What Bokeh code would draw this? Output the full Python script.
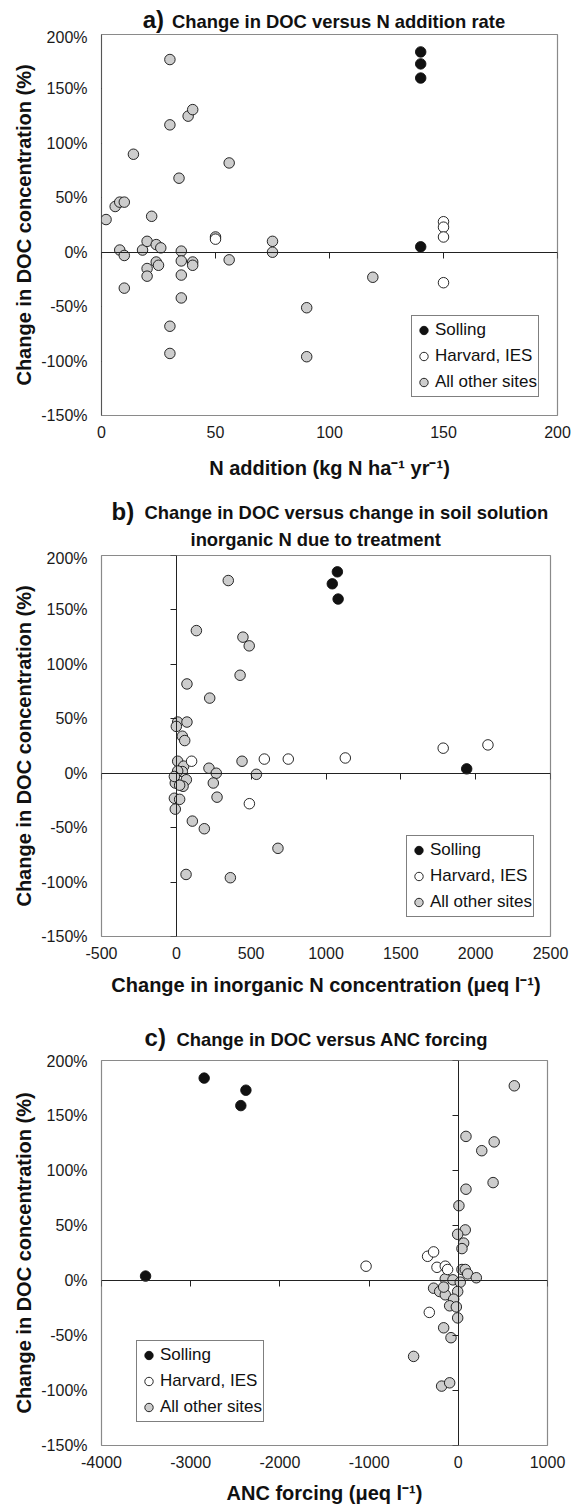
from bokeh.plotting import figure
from bokeh.layouts import column
from bokeh.models import (LinearAxis, FixedTicker, PrintfTickFormatter, CustomJSTickFormatter,
                          Range1d, Legend, LegendItem, Div)
from bokeh.embed import file_html
from bokeh.resources import INLINE

FONT = "Liberation Sans"
W = 574

# ---------------- data ----------------
y_ticks = [-150, -100, -50, 0, 50, 100, 150, 200]

# Panel a: N addition (kg N ha-1 yr-1) vs change in DOC (%)
a_xticks = [0, 50, 100, 150, 200]
a_sol_x = [140, 140, 140, 140]
a_sol_y = [184, 173, 160, 5]
a_har_x = [50, 150, 150, 150, 150]
a_har_y = [12, 28, 23, 14, -28]
a_oth_x = [2, 6, 8, 10, 14, 30, 30, 38, 40, 22, 34, 56, 8, 10, 10, 18, 20, 24, 26, 20,
           20, 24, 25, 35, 35, 35, 35, 30, 30, 40, 40, 50, 56, 75, 75, 119, 90, 90]
a_oth_y = [30, 42, 46, 46, 90, 177, 117, 125, 131, 33, 68, 82, 2, -3, -33, 2, 10, 7, 4, -15,
           -22, -9, -12, 1, -8, -21, -42, -68, -93, -9, -12, 14, -7, 10, 0, -23, -51, -96]

# Panel b: change in inorganic N (ueq/l) vs change in DOC (%)
b_xticks = [-500, 0, 500, 1000, 1500, 2000, 2500]
b_sol_x = [1076, 1042, 1081, 1940]
b_sol_y = [185, 174, 160, 4]
b_har_x = [102, 588, 748, 1129, 488, 1783, 2082]
b_har_y = [11, 13, 13, 14, -28, 23, 26]
b_oth_x = [347, 134, 445, 487, 426, 71, 223, 9, 71, 0, 40, 56, 9, 439, 49, 218, 40, 9, 267, 535,
           67, -7, -13, 45, 22, 247, 272, -13, 22, -7, 107, 187, 679, 65, 361]
b_oth_y = [177, 131, 125, 117, 90, 82, 69, 47, 47, 43, 34, 30, 11, 11, 6.5, 4.6, 1.5, 2, 0, -1,
           -6, -9, -3, -12, -11, -9, -22, -23, -24, -33, -44, -51, -69, -93, -96]

# Panel c: ANC forcing (ueq/l) vs change in DOC (%)
c_xticks = [-4000, -3000, -2000, -1000, 0, 1000]
c_sol_x = [-2849, -2381, -2438, -3506]
c_sol_y = [184, 173, 159, 4]
c_har_x = [-1034, -344, -277, -239, -146, -120, -325]
c_har_y = [13, 22, 26, 12, 13, 10, -29]
c_oth_x = [628, 86, 263, 402, 390, 86, 7, 78, -7, 60, 41, 41, 78, 105, 202, -146, -60, 22,
           -277, -209, -146, -7, -52, -97, -22, -7, -164, -82, -501, -187, -97, -164]
c_oth_y = [177, 131, 118, 126, 89, 83, 68, 46, 42, 34, 29, 10, 10, 6, 2.5, 1.5, 0.6, -1.5,
           -7, -10, -13, -10, -17, -23, -24, -34, -43, -52, -69, -96, -93, -6]

legend_labels = ["Solling", "Harvard, IES", "All other sites"]


def title_div(height, parts):
    spans = []
    for (txt, left, top, size, centered) in parts:
        tr = "transform:translateX(-50%);" if centered else ""
        spans.append(
            f'<span style="position:absolute;left:{left}px;top:{top}px;font-size:{size}px;'
            f'line-height:1;white-space:nowrap;{tr}">{txt}</span>')
    html = (f'<div style="position:relative;width:{W}px;height:{height}px;'
            f"font-family:'{FONT}',Arial,sans-serif;font-weight:bold;color:#111111;"
            f'overflow:visible;">' + "".join(spans) + "</div>")
    return Div(text=html, width=W, height=height, margin=(0, 0, 0, 0),
               styles={"overflow": "visible"})


def make_panel(xr, xticks, sol, har, oth, frame_w, frame_h, borders, xlabel, xlabel_standoff,
               legend_loc):
    left, right, top, bottom = borders
    p = figure(frame_width=frame_w, frame_height=frame_h,
               x_range=Range1d(*xr), y_range=Range1d(-150, 200),
               output_backend="svg", toolbar_location=None,
               min_border_left=left, min_border_right=right,
               min_border_top=top, min_border_bottom=bottom)
    p.grid.visible = False
    p.border_fill_color = None
    p.outline_line_color = "#8a8a8a"
    p.outline_line_width = 1.2

    # labelled axes at the frame edges (no lines/ticks)
    xa = p.xaxis[0]
    xa.ticker = FixedTicker(ticks=xticks)
    xa.formatter = PrintfTickFormatter(format="%d")
    xa.axis_line_color = None
    xa.major_tick_line_color = None
    xa.minor_tick_line_color = None
    xa.major_label_standoff = 4
    xa.major_label_text_font = FONT
    xa.major_label_text_font_size = "16px"
    xa.major_label_text_color = "#1a1a1a"
    xa.axis_label = xlabel
    xa.axis_label_text_font = FONT
    xa.axis_label_text_font_style = "bold"
    xa.axis_label_text_font_size = "20px"
    xa.axis_label_text_color = "#111111"
    xa.axis_label_standoff = xlabel_standoff

    ya = p.yaxis[0]
    ya.ticker = FixedTicker(ticks=y_ticks)
    ya.formatter = PrintfTickFormatter(format="%d%%")
    ya.axis_line_color = None
    ya.major_tick_line_color = None
    ya.minor_tick_line_color = None
    ya.major_label_standoff = 8
    ya.major_label_text_font = FONT
    ya.major_label_text_font_size = "16px"
    ya.major_label_text_color = "#1a1a1a"
    ya.axis_label = "Change in DOC concentration (%)"
    ya.axis_label_text_font = FONT
    ya.axis_label_text_font_style = "bold"
    ya.axis_label_text_font_size = "20px"
    ya.axis_label_text_color = "#111111"
    ya.axis_label_standoff = 3

    # crossing axes at zero
    blank = CustomJSTickFormatter(code="return ''")
    fx = LinearAxis(fixed_location=0, ticker=FixedTicker(ticks=xticks), formatter=blank,
                    major_tick_in=6, major_tick_out=0, minor_tick_line_color=None,
                    axis_line_color="#222222", major_tick_line_color="#222222",
                    major_label_standoff=0, major_label_text_font_size="1px")
    p.add_layout(fx, "above")
    fy = LinearAxis(fixed_location=0, ticker=FixedTicker(ticks=y_ticks), formatter=blank,
                    major_tick_in=6, major_tick_out=0, minor_tick_line_color=None,
                    axis_line_color="#222222", major_tick_line_color="#222222",
                    major_label_standoff=0, major_label_text_font_size="1px")
    p.add_layout(fy, "right")

    r_o = p.scatter(oth[0], oth[1], marker="circle", size=10.5, fill_color="#cdcdcd",
                    line_color="#111111", line_width=0.9)
    r_h = p.scatter(har[0], har[1], marker="circle", size=10.5, fill_color="white",
                    line_color="#111111", line_width=0.9)
    r_s = p.scatter(sol[0], sol[1], marker="circle", size=10.5, fill_color="#111111",
                    line_color="#111111", line_width=0.9)

    leg = Legend(items=[LegendItem(label=legend_labels[0], renderers=[r_s]),
                        LegendItem(label=legend_labels[1], renderers=[r_h]),
                        LegendItem(label=legend_labels[2], renderers=[r_o])],
                 location=legend_loc, orientation="vertical",
                 border_line_color="black", border_line_width=1,
                 background_fill_color="white", background_fill_alpha=1.0,
                 padding=1, spacing=0, margin=0,
                 glyph_width=21, glyph_height=26, label_height=26, label_standoff=1,
                 label_width=100,
                 label_text_font=FONT, label_text_font_size="17px",
                 label_text_color="#111111")
    p.add_layout(leg)
    return p


ta = title_div(28, [("a)", 142.7, 8.0, 24, False),
                    ("Change in DOC versus N addition rate", 172, 12.7, 18.4, False)])
pa = make_panel((0, 200), a_xticks, (a_sol_x, a_sol_y), (a_har_x, a_har_y), (a_oth_x, a_oth_y),
                456, 381, (101, 17, 6, 82),
                "N addition (kg N ha\u207b\u00b9 yr\u207b\u00b9)", 16, (310, 18))

tb = title_div(52, [("b)", 111.6, 3, 24, False),
                    ("Change in DOC versus change in soil solution", 144.6, 7.4, 18.4, False),
                    ("inorganic N due to treatment", 315.7, 34.1, 18.4, True)])
pb = make_panel((-500, 2500), b_xticks, (b_sol_x, b_sol_y), (b_har_x, b_har_y), (b_oth_x, b_oth_y),
                449, 381, (101, 24, 6, 71),
                "Change in inorganic N concentration (\u03bceq l\u207b\u00b9)", 12, (305, 19))

tc = title_div(45, [("c)", 144.6, 19.4, 24, False),
                    ("Change in DOC versus ANC forcing", 176.4, 24.1, 18.4, False)])
pc = make_panel((-4000, 1000), c_xticks, (c_sol_x, c_sol_y), (c_har_x, c_har_y), (c_oth_x, c_oth_y),
                446, 385, (101, 27, 8, 52),
                "ANC forcing (\u03bceq l\u207b\u00b9)", 11, (35, 23))

layout = column(ta, pa, tb, pb, tc, pc, spacing=0)
open("out.html", "w").write(file_html(layout, INLINE))
